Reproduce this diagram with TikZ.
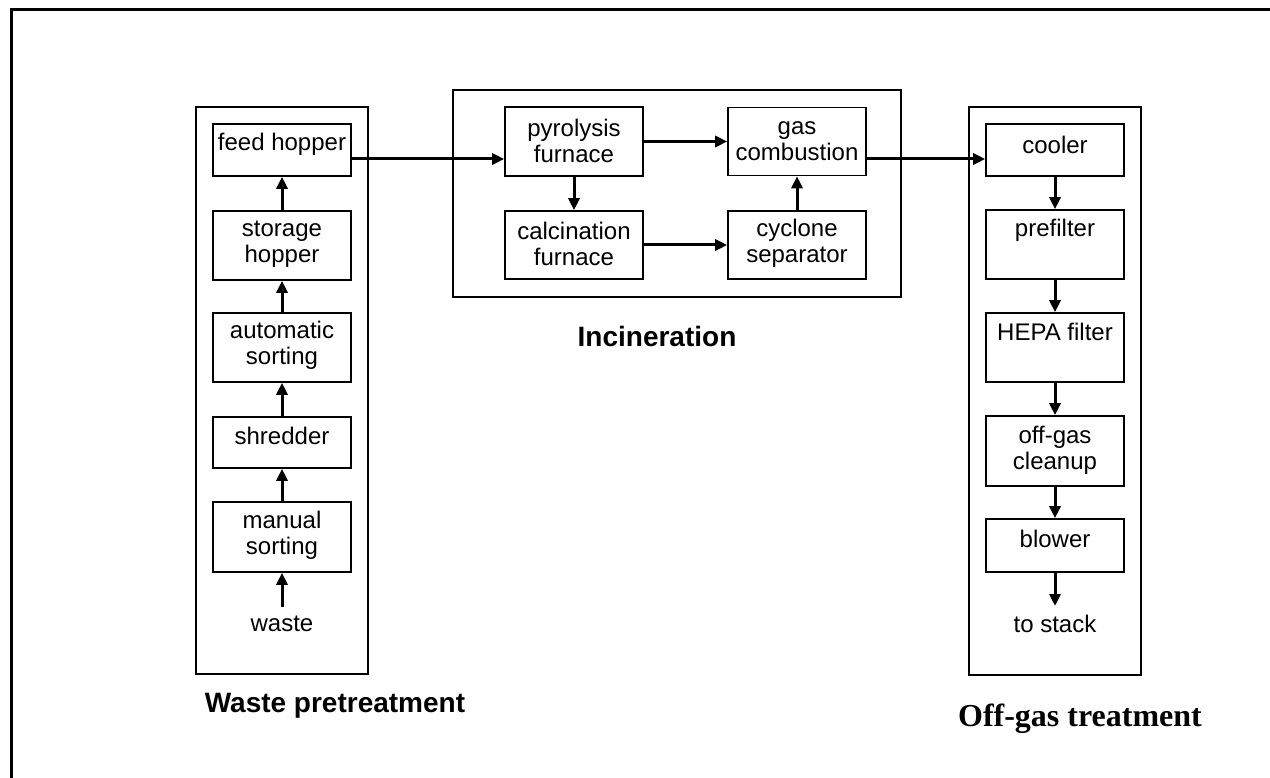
\documentclass[tikz,border=0pt]{standalone}
\usepackage{fontspec}
\setmainfont{Liberation Sans}
\newfontfamily\serifbold{Liberation Serif}
\usetikzlibrary{arrows.meta}
\begin{document}
\begin{tikzpicture}[x=1pt,y=-1pt,
  box/.style={draw,line width=1.6pt,inner sep=0pt,rectangle},
  grp/.style={draw,line width=1.6pt,inner sep=0pt,rectangle},
  txt/.style={inner sep=0pt,align=center,font=\fontsize{24}{26}\selectfont},
  ttl/.style={inner sep=0pt,font=\fontsize{28}{30}\selectfont\bfseries},
  arr/.style={line width=3pt,-{Triangle[length=12pt,width=11pt]}}]
\useasboundingbox (0,0) rectangle (1270,778);
\clip (0,0) rectangle (1270,778);
\fill[white] (0,0) rectangle (1270,778);
% outer frame (only top and left edges visible)
\draw[line width=3pt] (11,800) -- (11,9.5) -- (1300,9.5);

% group boxes
\node[grp,minimum width=172pt,minimum height=567pt] (g1) at (282,390.5) {};
\node[grp,minimum width=448pt,minimum height=207pt] (g2) at (677,193.5) {};
\node[grp,minimum width=172pt,minimum height=568pt] (g3) at (1055,391) {};

% left column
\node[box,minimum width=138pt,minimum height=52pt] (fh) at (282,150) {};
\node[txt] (tfh) at (282,144.5) {feed hopper};
\node[box,minimum width=138pt,minimum height=69pt] (sh) at (282,245.5) {};
\node[txt] (tsh) at (282,244.5) {storage\\hopper};
\node[box,minimum width=138pt,minimum height=69pt] (as) at (282,347.5) {};
\node[txt] (tas) at (282,345.5) {automatic\\sorting};
\node[box,minimum width=138pt,minimum height=51pt] (sr) at (282,442.5) {};
\node[txt] (tsr) at (282,435.5) {shredder};
\node[box,minimum width=138pt,minimum height=70pt] (ms) at (282,537) {};
\node[txt] (tms) at (282,535.5) {manual\\sorting};
\node[txt] (ws) at (282,623.5) {waste};
\coordinate (wsa) at (282,607);

\draw[arr] (wsa) -- (ms.south);
\draw[arr] (ms.north) -- (sr.south);
\draw[arr] (sr.north) -- (as.south);
\draw[arr] (as.north) -- (sh.south);
\draw[arr] (sh.north) -- (fh.south);

% incineration
\node[box,minimum width=138pt,minimum height=69pt] (pf) at (574,141.5) {};
\node[txt] (tpf) at (574,141) {pyrolysis\\furnace};
\node[box,minimum width=138pt,minimum height=68pt] (gc) at (797,141.5) {};
\node[txt] (tgc) at (797,141) {gas\\combustion};
\node[box,minimum width=138pt,minimum height=68pt] (cf) at (574,245) {};
\node[txt] (tcf) at (574,243.5) {calcination\\furnace};
\node[box,minimum width=138pt,minimum height=68pt] (cs) at (797,245) {};
\node[txt] (tcs) at (797,243.5) {cyclone\\separator};

\draw[arr] (pf.east) -- (gc.west);
\draw[arr] (cf.east) -- (cs.west);
\draw[arr] (pf.south) -- (cf.north);
\draw[arr] (cs.north) -- (gc.south);

% right column
\node[box,minimum width=138pt,minimum height=52pt] (co) at (1055,150) {};
\node[txt] (tco) at (1055,144.5) {cooler};
\node[box,minimum width=138pt,minimum height=69pt] (pr) at (1055,244.5) {};
\node[txt] (tpr) at (1055,230) {prefilter};
\node[box,minimum width=138pt,minimum height=69pt] (hp) at (1055,347.5) {};
\node[txt] (thp) at (1055,332) {HEPA filter};
\node[box,minimum width=138pt,minimum height=70pt] (og) at (1055,451) {};
\node[txt] (tog) at (1055,450) {off-gas\\cleanup};
\node[box,minimum width=138pt,minimum height=53pt] (bl) at (1055,545.5) {};
\node[txt] (tbl) at (1055,538.5) {blower};
\node[txt] (stk) at (1055,623.5) {to stack};
\coordinate (stka) at (1055,606);

\draw[arr] (co.south) -- (pr.north);
\draw[arr] (pr.south) -- (hp.north);
\draw[arr] (hp.south) -- (og.north);
\draw[arr] (og.south) -- (bl.north);
\draw[arr] (bl.south) -- (stka);

% inter-group connectors
\coordinate (c1) at ([yshift=-9pt]fh.east);
\draw[arr] (c1) -- (c1 -| pf.west);
\coordinate (c2) at ([yshift=-17.5pt]gc.east);
\draw[arr] (c2) -- (c2 -| co.west);

% titles
\node[ttl] (l1) at (335,706) {Waste pretreatment};
\node[ttl] (l2) at (657,336) {Incineration};
\node[inner sep=0pt,font=\fontsize{32}{34}\selectfont\serifbold\bfseries] (l3) at (1080,719) {Off-gas treatment};
\end{tikzpicture}
\end{document}
